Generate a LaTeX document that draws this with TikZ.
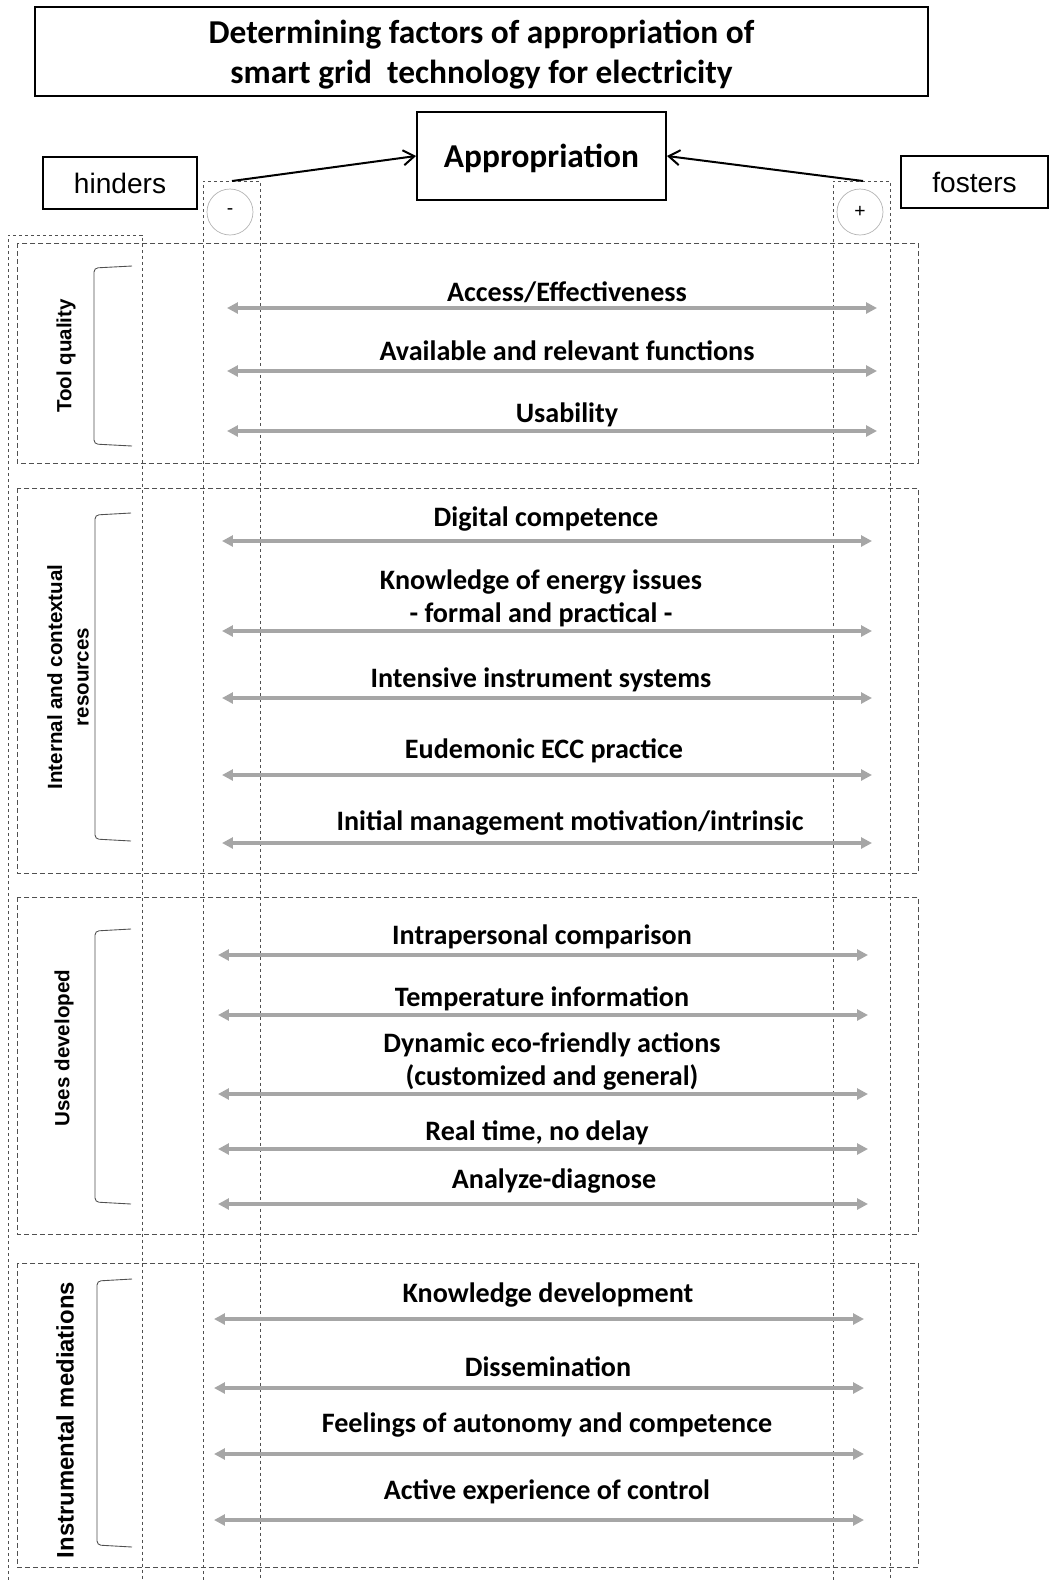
\documentclass[tikz,border=0pt]{standalone}
\usepackage{fontspec}
\setmainfont{Carlito}
\newfontfamily\arialfont{Liberation Sans}
\usetikzlibrary{arrows.meta}
\definecolor{scalegray}{HTML}{A6A6A6}
\definecolor{dashgray}{HTML}{505050}
\definecolor{ringgray}{HTML}{B4B4B4}
\tikzset{
  headbox/.style={draw, line width=0.04cm, inner sep=0pt, align=center, text depth=0pt},
  factor/.style={font=\fontsize{16}{19}\selectfont\bfseries, align=center, inner sep=0pt, yshift=-0.05cm},
  scaleline/.style={draw=scalegray, line width=0.08cm,
    {Triangle[length=0.22cm,width=0.22cm]}-{Triangle[length=0.22cm,width=0.22cm]}},
  pointer/.style={line width=0.04cm, -{Straight Barb[length=0.22cm,width=0.3cm]}},
  column/.style={draw=dashgray, line width=0.35pt, dash pattern=on 0.07cm off 0.05cm},
  groupbox/.style={draw=dashgray, line width=0.4pt, dash pattern=on 0.1cm off 0.06cm},
  bracket/.style={draw=dashgray, line width=0.5pt, rounded corners=0.08cm},
  grouplabel/.style={rotate=90, align=center, inner sep=0pt,
    font=\arialfont\bfseries\fontsize{11.7}{15}\selectfont},
  signcircle/.style={circle, draw=ringgray, line width=0.4pt, minimum size=0.92cm,
    inner sep=0pt, font=\arialfont\fontsize{11}{13}\selectfont}
}
\begin{document}
\begin{tikzpicture}[x=0.02cm,y=-0.02cm]
%%%%% FRAME %%%%%
\useasboundingbox (0,0) rectangle (1049,1580);

%%%%% HEADINGS %%%%%
\node[headbox, minimum width=17.86cm, minimum height=1.78cm,
  font=\fontsize{19}{22.5}\selectfont\bfseries] (title) at (481.5,51.5)
  {Determining factors of appropriation of\\smart grid\ \ technology for electricity};
\node[headbox, minimum width=4.98cm, minimum height=1.76cm,
  font=\fontsize{19}{22}\selectfont\bfseries] (approp) at (541.5,156) {Appropriation};
\node[headbox, minimum width=3.08cm, minimum height=1.04cm,
  font=\arialfont\fontsize{16}{19}\selectfont] (hinders) at (120,183) {hinders};
\node[headbox, minimum width=2.94cm, minimum height=1.04cm,
  font=\arialfont\fontsize{16}{19}\selectfont] (fosters) at (974.5,182) {fosters};

%%%%% COLUMNS %%%%%
\draw[column] (8,1580) -- (8,235) -- (142,235) -- (142,1580);
\draw[column] (203,1580) -- (203,181) -- (260,181) -- (260,1580);
\draw[column] (833,1580) -- (833,181) -- (890,181) -- (890,1580);
\coordinate (minustop) at (232,181);
\coordinate (plustop) at (863,181);
\node[signcircle] (minus) at (230,212) {-};
\node[signcircle] (plus) at (860,212) {+};
\draw[pointer] (minustop) -- (approp.west);
\draw[pointer] (plustop) -- (approp.east);

%%%%% GROUPS %%%%%
\draw[groupbox] (17,243) rectangle (918,463);
\draw[groupbox] (17,488) rectangle (918,873);
\draw[groupbox] (17,897) rectangle (918,1234);
\draw[groupbox] (17,1263) rectangle (918,1567);

\draw[bracket] (132,266) -- (94,268) -- (94,444) -- (132,446);
\draw[bracket] (131,513) -- (95,515) -- (95,839) -- (131,841);
\draw[bracket] (131,929) -- (95,931) -- (95,1202) -- (131,1204);
\draw[bracket] (132,1279) -- (97,1281) -- (97,1545) -- (132,1547);

\node[grouplabel] (tool) at (66,356) {Tool quality};
\node[grouplabel] (resources) at (68,677) {Internal and contextual\\resources};
\node[grouplabel] (uses) at (64,1048) {Uses developed};
\node[grouplabel, font=\arialfont\bfseries\fontsize{13.6}{16}\selectfont] (mediations) at (65,1420) {Instrumental mediations};

%%%%% TOOL QUALITY %%%%%
\node[factor] (access) at (567,290) {Access/Effectiveness};
\draw[scaleline] (227,308) -- (877,308);
\node[factor] (functions) at (567,348) {Available and relevant functions};
\draw[scaleline] (227,371) -- (877,371);
\node[factor] (usability) at (567,412) {Usability};
\draw[scaleline] (227,431) -- (877,431);

%%%%% RESOURCES %%%%%
\node[factor] (digital) at (546,517) {Digital competence};
\draw[scaleline] (222,541) -- (872,541);
\node[factor] (knowledge) at (541,596) {Knowledge of energy issues\\- formal and practical -};
\draw[scaleline] (222,631) -- (872,631);
\node[factor] (intensive) at (541,677) {Intensive instrument systems};
\draw[scaleline] (222,698) -- (872,698);
\node[factor] (eudemonic) at (544,748) {Eudemonic ECC practice};
\draw[scaleline] (222,775) -- (872,775);
\node[factor] (initial) at (570,820) {Initial management motivation/intrinsic};
\draw[scaleline] (222,843) -- (872,843);

%%%%% USES %%%%%
\node[factor] (intrapersonal) at (542,934) {Intrapersonal comparison};
\draw[scaleline] (218,955) -- (868,955);
\node[factor] (temperature) at (542,996) {Temperature information};
\draw[scaleline] (218,1015) -- (868,1015);
\node[factor] (dynamic) at (552,1059) {Dynamic eco-friendly actions\\(customized and general)};
\draw[scaleline] (218,1094) -- (868,1094);
\node[factor] (realtime) at (537,1130) {Real time, no delay};
\draw[scaleline] (218,1149) -- (868,1149);
\node[factor] (analyze) at (554,1179) {Analyze-diagnose};
\draw[scaleline] (218,1204) -- (868,1204);

%%%%% MEDIATIONS %%%%%
\node[factor] (development) at (548,1293) {Knowledge development};
\draw[scaleline] (214,1319) -- (864,1319);
\node[factor] (dissemination) at (548,1364) {Dissemination};
\draw[scaleline] (214,1388) -- (864,1388);
\node[factor] (autonomy) at (547,1423) {Feelings of autonomy and competence};
\draw[scaleline] (214,1454) -- (864,1454);
\node[factor] (control) at (547,1489) {Active experience of control};
\draw[scaleline] (214,1520) -- (864,1520);
\end{tikzpicture}
\end{document}
